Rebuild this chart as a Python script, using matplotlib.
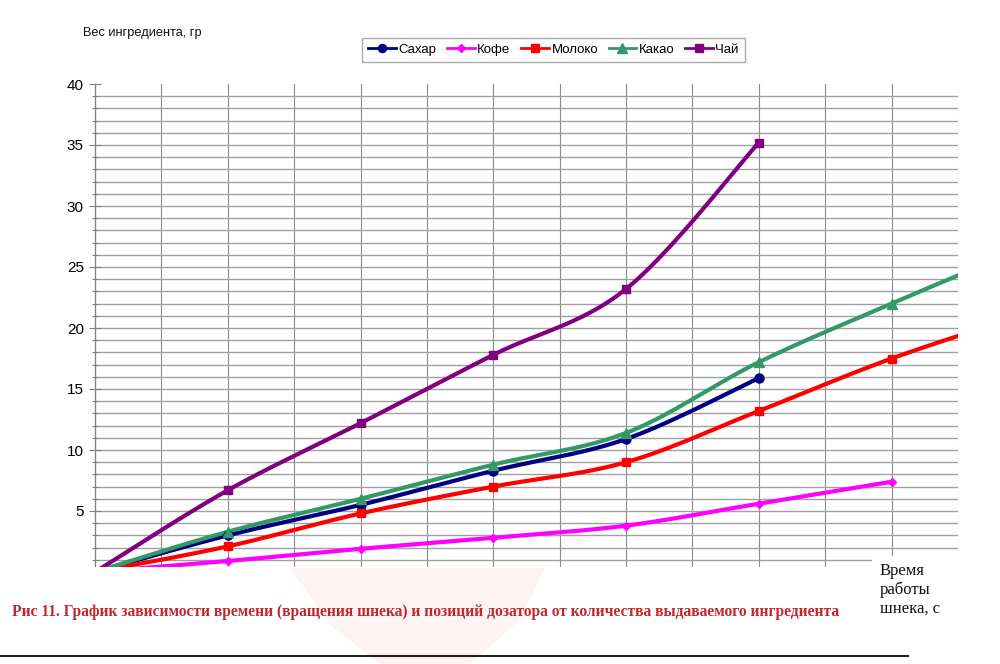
import numpy as np
import matplotlib
matplotlib.use("Agg")
import matplotlib.pyplot as plt
from matplotlib.lines import Line2D
from matplotlib.patches import Rectangle, Polygon
from matplotlib.ticker import MultipleLocator, NullFormatter

# ---- data ----
time = [0, 1, 2, 3, 4, 5, 6, 7]
sugar = [0, 3.0, 5.5, 8.3, 10.9, 15.9]
coffee = [0, 0.9, 1.9, 2.8, 3.8, 5.6, 7.4]
milk = [0, 2.1, 4.8, 7.0, 9.0, 13.2, 17.5, 21.1]
cocoa = [0, 3.3, 6.0, 8.8, 11.4, 17.2, 22.0, 26.6]
tea = [0, 6.7, 12.2, 17.8, 23.2, 35.2]

names = ["Сахар", "Кофе", "Молоко", "Какао", "Чай"]
y_ticks = [0, 5, 10, 15, 20, 25, 30, 35, 40]

ylabel_txt = "Вес ингредиента, гр"
xlabel_txt = "Время\nработы\nшнека, с"
caption_txt = ("Рис 11. График зависимости времени (вращения шнека) и позиций "
               "дозатора от количества выдаваемого ингредиента")

series = [
    (sugar, "#000080", "o", 6.5),
    (coffee, "#FF00FF", "D", 4.5),
    (milk, "#FF0000", "s", 6),
    (cocoa, "#339966", "^", 7.5),
    (tea, "#800080", "s", 6),
]


def smooth(xs, ys, n=40):
    pts = np.column_stack([xs, ys]).astype(float)
    P = np.vstack([pts[0], pts, pts[-1]])
    out = []
    for i in range(len(pts) - 1):
        p0, p1, p2, p3 = P[i], P[i + 1], P[i + 2], P[i + 3]
        c1 = p1 + (p2 - p0) / 6.0
        c2 = p2 - (p3 - p1) / 6.0
        t = np.linspace(0, 1, n)[:, None]
        seg = ((1 - t) ** 3) * p1 + 3 * ((1 - t) ** 2) * t * c1 + 3 * (1 - t) * t ** 2 * c2 + t ** 3 * p2
        out.append(seg if i == 0 else seg[1:])
    return np.vstack(out)


plt.rcParams['font.family'] = ['Liberation Sans', 'DejaVu Sans']

fig = plt.figure(figsize=(10, 6.64), dpi=100)
W, H = 1000, 664
ax = fig.add_axes([95 / W, 1 - 572 / H, (958 - 95) / W, (572 - 84) / H])

for vals, col, mk, ms in series:
    xs = time[:len(vals)]
    curve = smooth(xs, vals)
    ax.plot(curve[:, 0], curve[:, 1], color=col, lw=3, solid_capstyle='round', zorder=3)
    ax.plot(xs, vals, linestyle='none', marker=mk, color=col, markersize=ms, zorder=4)

ax.set_xlim(0, 6.5)
ax.set_ylim(0, 40)
ax.xaxis.set_major_locator(MultipleLocator(0.5))
ax.xaxis.set_major_formatter(NullFormatter())
ax.set_yticks(y_ticks)
ax.yaxis.set_minor_locator(MultipleLocator(1))
ax.tick_params(axis='y', which='major', direction='inout', length=8, width=0.8,
               color='#808080', labelsize=11, pad=4)
ax.tick_params(axis='y', which='minor', direction='inout', length=5, width=0.8, color='#808080')
ax.tick_params(axis='x', which='major', direction='inout', length=6, color='#808080')

ax.grid(True, axis='x', which='major', color='#8a8a8a', lw=0.8)
ax.grid(True, axis='y', which='both', color='#a0a0a0', lw=1.0)
ax.set_axisbelow(True)
for sp in ['top', 'right', 'bottom']:
    ax.spines[sp].set_visible(False)
ax.spines['left'].set_color('#808080')
ax.spines['left'].set_linewidth(0.9)
ax.yaxis.get_major_ticks()[-1].gridline.set_visible(False)

# cut-off region (scan)
fig.add_artist(Rectangle((0, 0), 1, 97 / H, transform=fig.transFigure,
                         facecolor='white', edgecolor='none', zorder=5))
fig.add_artist(Rectangle((872 / W, 0), 88 / W, 108 / H, transform=fig.transFigure,
                         facecolor='white', edgecolor='none', zorder=5))
# faint watermark
wm = [(290, 568), (545, 568), (520, 620), (470, 664), (380, 664), (330, 625)]
fig.add_artist(Polygon([(x / W, 1 - y / H) for x, y in wm], closed=True,
                       transform=fig.transFigure, facecolor='#fef3f3',
                       edgecolor='none', zorder=6))

# legend
handles = [Line2D([0], [0], color=c, lw=2, marker=m, markersize=ms * 0.9)
           for (_, c, m, ms) in series]
fig.legend(handles, names, loc='center', bbox_to_anchor=(553.5 / W, 1 - 50 / H),
           ncol=5, fontsize=9.5, frameon=True, fancybox=False, edgecolor='#aaaaaa',
           handlelength=2.1, handletextpad=0.2, columnspacing=0.8,
           borderpad=0.45, framealpha=1)

fig.text(83 / W, 1 - 33 / H, ylabel_txt, fontsize=9.2, va='center', ha='left', color='#111111')
fig.text(880 / W, 1 - 563 / H, xlabel_txt, fontsize=12, va='top', ha='left',
         family=['Liberation Serif', 'DejaVu Serif'], linespacing=1.2, color='#111111', zorder=7)
fig.text(12 / W, 1 - 612 / H, caption_txt, fontsize=11.2, fontweight='bold', va='center',
         ha='left', family=['Liberation Serif', 'DejaVu Serif'], color='#C0272D', zorder=7)
fig.add_artist(Line2D([0, 908 / W], [1 - 656 / H] * 2, transform=fig.transFigure,
                      color='#222222', lw=1.5, zorder=7))

fig.savefig("out.png", dpi=100)
